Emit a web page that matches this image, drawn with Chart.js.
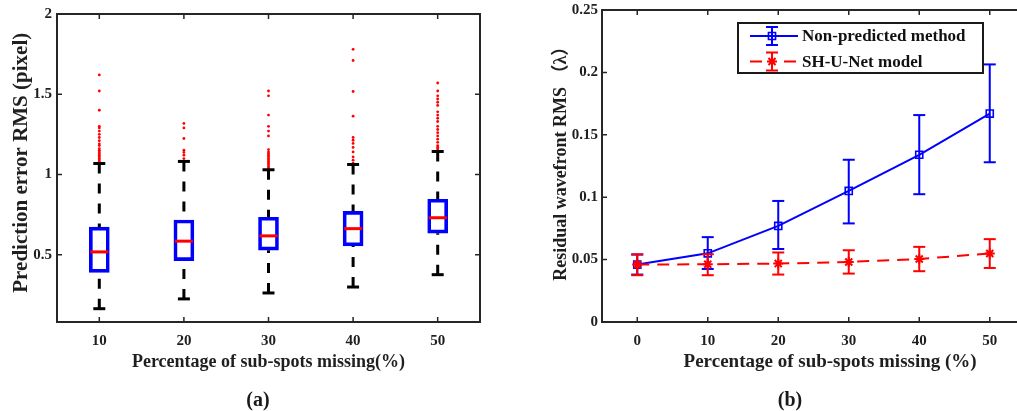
<!DOCTYPE html>
<html><head><meta charset="utf-8">
<script src="https://cdn.jsdelivr.net/npm/chart.js@4.4.1/dist/chart.umd.min.js"></script>
<style>
html,body{margin:0;padding:0;background:#fff;overflow:hidden;width:1017px;height:411px;}
#wrapA{position:absolute;left:0;top:0;width:500px;height:411px;}
#wrapB{position:absolute;left:530px;top:0;width:520px;height:411px;}
.cap{position:absolute;top:388px;line-height:20px;font:bold 20px 'Liberation Serif',serif;color:#1a1a1a;transform:translateX(-50%);}
</style></head><body>
<div id="wrapA"><canvas id="chartA"></canvas></div>
<div id="wrapB"><canvas id="chartB"></canvas></div>
<div class="cap" style="left:258px">(a)</div>
<div class="cap" style="left:790px">(b)</div>
<script>
// ---------- Panel (a): box plot ----------
const categories = ['10', '20', '30', '40', '50'];
const boxPositions = [1, 2, 3, 4, 5];
const q1 = [0.389, 0.463, 0.528, 0.555, 0.634];
const medians = [0.517, 0.584, 0.617, 0.662, 0.730];
const q3 = [0.671, 0.716, 0.733, 0.770, 0.845];
const whiskerLow = [0.163, 0.224, 0.261, 0.298, 0.375];
const whiskerHigh = [1.068, 1.081, 1.029, 1.062, 1.143];
const outliers10 = [1.62, 1.52, 1.40, 1.30, 1.29, 1.27, 1.25, 1.23, 1.21, 1.19, 1.18, 1.16, 1.15, 1.14, 1.13, 1.12, 1.11, 1.10, 1.09, 1.08];
const outliers20 = [1.318, 1.29, 1.224, 1.151, 1.137, 1.12, 1.099];
const outliers30 = [1.52, 1.49, 1.37, 1.30, 1.27, 1.24, 1.155, 1.14, 1.13, 1.12, 1.11, 1.10, 1.09, 1.08, 1.07, 1.06, 1.05, 1.04];
const outliers40 = [1.78, 1.71, 1.517, 1.363, 1.23, 1.213, 1.193, 1.168, 1.14, 1.109, 1.089, 1.07];
const outliers50 = [1.57, 1.52, 1.49, 1.47, 1.45, 1.43, 1.39, 1.37, 1.35, 1.33, 1.30, 1.28, 1.26, 1.24, 1.22, 1.20, 1.18, 1.17, 1.16, 1.15];
const yTicksA = [0.5, 1, 1.5, 2];
const yTickLabelsA = ['0.5', '1', '1.5', '2'];

// ---------- Panel (b): error-bar lines ----------
const xValues = [0, 10, 20, 30, 40, 50];
const xTickLabelsB = ['0', '10', '20', '30', '40', '50'];
const yTicksB = [0, 0.05, 0.1, 0.15, 0.2, 0.25];
const yTickLabelsB = ['0', '0.05', '0.1', '0.15', '0.2', '0.25'];
const seriesNames = ['Non-predicted method', 'SH-U-Net model'];
const nonPredMean = [0.046, 0.055, 0.077, 0.105, 0.134, 0.167];
const nonPredLow  = [0.038, 0.0425, 0.0585, 0.079, 0.1024, 0.128];
const nonPredHigh = [0.054, 0.068, 0.097, 0.130, 0.1658, 0.2064];
const shMean = [0.046, 0.0463, 0.0468, 0.0481, 0.0505, 0.0549];
const shLow  = [0.0375, 0.0375, 0.038, 0.0388, 0.0407, 0.0433];
const shHigh = [0.0543, 0.0543, 0.0557, 0.0575, 0.0602, 0.0664];

const BLUE = '#0000ff', RED = '#ff0000', INK = '#1f1f1f';
const FONT = "'Liberation Serif', 'Noto Sans CJK SC', serif";
Chart.defaults.font.family = FONT;
Chart.defaults.font.weight = 'bold';
Chart.defaults.color = INK;
Chart.defaults.animation = false;

const framePlugin = {
  id: 'frame',
  afterDatasetsDraw(chart) {
    const {ctx, chartArea: a, scales: {x, y}} = chart;
    ctx.save();
    ctx.strokeStyle = '#262626';
    ctx.lineWidth = 2;
    ctx.strokeRect(a.left, a.top, a.right - a.left, a.bottom - a.top);
    ctx.lineWidth = 1.5;
    ctx.beginPath();
    x.ticks.forEach(t => {
      const px = x.getPixelForValue(t.value);
      ctx.moveTo(px, a.bottom); ctx.lineTo(px, a.bottom - 5);
      ctx.moveTo(px, a.top); ctx.lineTo(px, a.top + 5);
    });
    y.ticks.forEach(t => {
      const py = y.getPixelForValue(t.value);
      ctx.moveTo(a.left, py); ctx.lineTo(a.left + 5, py);
      ctx.moveTo(a.right, py); ctx.lineTo(a.right - 5, py);
    });
    ctx.stroke();
    ctx.restore();
  }
};

function errorSegments(xs, lo, hi) {
  const d = [];
  xs.forEach((x, i) => { d.push({x, y: lo[i]}, {x, y: hi[i]}, {x, y: null}); });
  return d;
}
function capPoints(xs, lo, hi) {
  const d = [];
  xs.forEach((x, i) => { d.push({x, y: lo[i]}, {x, y: hi[i]}); });
  return d;
}

// ----- chart A -----
const whiskerData = [];
boxPositions.forEach((x, i) => {
  whiskerData.push({x, y: whiskerHigh[i]}, {x, y: q3[i]}, {x, y: null},
                   {x, y: whiskerLow[i]}, {x, y: q1[i]}, {x, y: null});
});
const outlierLists = [outliers10, outliers20, outliers30, outliers40, outliers50];
const outlierData = [];
outlierLists.forEach((list, i) => list.forEach(v => outlierData.push({x: boxPositions[i], y: v})));

new Chart(document.getElementById('chartA'), {
  type: 'scatter',
  data: {
    datasets: [
      { type: 'scatter', data: boxPositions.map((x, i) => ({x, y: medians[i]})),
        pointStyle: 'line', pointRadius: 9, pointBorderColor: RED, pointBorderWidth: 3, showLine: false, order: 0 },
      { type: 'bar', data: boxPositions.map((x, i) => ({x, y: [q1[i], q3[i]]})),
        backgroundColor: 'rgba(0,0,0,0)', borderColor: BLUE, borderWidth: 3, borderSkipped: false,
        barThickness: 20, order: 1 },
      { type: 'line', data: whiskerData, borderColor: '#000', borderWidth: 3, borderDash: [10, 10],
        pointRadius: 0, spanGaps: false, order: 2 },
      { type: 'scatter', data: capPoints(boxPositions, whiskerLow, whiskerHigh),
        pointStyle: 'line', pointRadius: 6, pointBorderColor: '#000', pointBorderWidth: 3, showLine: false, order: 2 },
      { type: 'scatter', data: outlierData, pointStyle: 'circle', pointRadius: 1.4,
        pointBackgroundColor: RED, pointBorderWidth: 0, showLine: false, order: 3 }
    ]
  },
  options: {
    responsive: true, maintainAspectRatio: false, events: [],
    layout: { padding: { left: 0, right: 20, top: 14, bottom: 0 } },
    plugins: { legend: { display: false }, tooltip: { enabled: false } },
    scales: {
      x: {
        type: 'linear', min: 0.5, max: 5.5, offset: false,
        grid: { display: false, drawTicks: false, offset: false }, border: { display: false },
        afterBuildTicks: s => { s.ticks = boxPositions.map(v => ({value: v})); },
        afterFit: s => { s.height = 89; s.paddingLeft = 0; s.paddingRight = 0; },
        ticks: { padding: 10, font: { size: 15, weight: 'bold' }, maxRotation: 0,
                 callback: (v, i) => categories[i] },
        title: { display: true, text: 'Percentage of sub-spots missing(%)',
                 font: { size: 18, weight: 'bold' }, padding: { top: 0, bottom: 38 } }
      },
      y: {
        type: 'linear', min: 0.08, max: 2,
        grid: { display: false, drawTicks: false }, border: { display: false },
        afterBuildTicks: s => { s.ticks = yTicksA.map(v => ({value: v})); },
        afterFit: s => { s.width = 57; s.paddingTop = 0; s.paddingBottom = 0; },
        ticks: { padding: 5, font: { size: 15, weight: 'bold' }, callback: (v, i) => yTickLabelsA[i] },
        title: { display: true, text: '  Prediction error RMS (pixel)',
                 font: { size: 21, weight: 'bold' }, padding: { top: 9, bottom: 0 } }
      }
    }
  },
  plugins: [framePlugin]
});

// ----- chart B -----
const legendPlugin = {
  id: 'boxLegend',
  afterDraw(chart) {
    const {ctx, chartArea: a} = chart;
    const L = {x: a.left + 136, y: a.top + 13, w: 245, h: 50};
    ctx.save();
    ctx.fillStyle = '#fff';
    ctx.fillRect(L.x, L.y, L.w, L.h);
    ctx.strokeStyle = '#1a1a1a'; ctx.lineWidth = 2;
    ctx.strokeRect(L.x, L.y, L.w, L.h);
    const rows = [
      {y: L.y + 13, color: BLUE, dash: [], style: 'rect', radius: 5, fill: 'rgba(0,0,0,0)', bw: 1.6},
      {y: L.y + 38.5, color: RED, dash: [12, 22], style: 'star', radius: 5, fill: RED, bw: 2}
    ];
    const x0 = L.x + 12, x1 = L.x + 60, xm = L.x + 34;
    rows.forEach((r, i) => {
      ctx.strokeStyle = r.color; ctx.lineWidth = 2;
      ctx.setLineDash(r.dash);
      ctx.beginPath(); ctx.moveTo(x0, r.y); ctx.lineTo(x1, r.y); ctx.stroke();
      ctx.setLineDash([]);
      ctx.beginPath();
      ctx.moveTo(xm, r.y - 9); ctx.lineTo(xm, r.y + 9);
      ctx.moveTo(xm - 6, r.y - 9); ctx.lineTo(xm + 6, r.y - 9);
      ctx.moveTo(xm - 6, r.y + 9); ctx.lineTo(xm + 6, r.y + 9);
      ctx.stroke();
      ctx.fillStyle = r.fill; ctx.strokeStyle = r.color; ctx.lineWidth = r.bw;
      Chart.helpers.drawPoint(ctx, {pointStyle: r.style, radius: r.radius, borderWidth: r.bw, rotation: 0}, xm, r.y);
      ctx.fillStyle = '#111';
      ctx.font = "bold 17px " + FONT;
      ctx.textBaseline = 'middle'; ctx.textAlign = 'left';
      ctx.fillText(seriesNames[i], L.x + 64, r.y + 1);
    });
    ctx.restore();
  }
};

new Chart(document.getElementById('chartB'), {
  type: 'scatter',
  data: {
    datasets: [
      { type: 'line', label: seriesNames[1], data: xValues.map((x, i) => ({x, y: shMean[i]})),
        borderColor: RED, borderWidth: 2, borderDash: [12, 8],
        pointStyle: 'star', pointRadius: 5, pointBorderColor: RED, pointBackgroundColor: RED, pointBorderWidth: 2, order: 0 },
      { type: 'line', data: errorSegments(xValues, shLow, shHigh), borderColor: RED, borderWidth: 2,
        pointRadius: 0, spanGaps: false, order: 0 },
      { type: 'scatter', data: capPoints(xValues, shLow, shHigh), pointStyle: 'line', pointRadius: 6,
        pointBorderColor: RED, pointBorderWidth: 2, showLine: false, order: 0 },
      { type: 'line', label: seriesNames[0], data: xValues.map((x, i) => ({x, y: nonPredMean[i]})),
        borderColor: BLUE, borderWidth: 2,
        pointStyle: 'rect', pointRadius: 5, pointBorderColor: BLUE, pointBackgroundColor: 'rgba(0,0,0,0)', pointBorderWidth: 1.6, order: 1 },
      { type: 'line', data: errorSegments(xValues, nonPredLow, nonPredHigh), borderColor: BLUE, borderWidth: 2,
        pointRadius: 0, spanGaps: false, order: 1 },
      { type: 'scatter', data: capPoints(xValues, nonPredLow, nonPredHigh), pointStyle: 'line', pointRadius: 6,
        pointBorderColor: BLUE, pointBorderWidth: 2, showLine: false, order: 1 }
    ]
  },
  options: {
    responsive: true, maintainAspectRatio: false, events: [],
    layout: { padding: { left: 0, right: 25, top: 10, bottom: 0 } },
    plugins: { legend: { display: false }, tooltip: { enabled: false } },
    scales: {
      x: {
        type: 'linear', min: -5, max: 55,
        grid: { display: false, drawTicks: false }, border: { display: false },
        afterBuildTicks: s => { s.ticks = xValues.map(v => ({value: v})); },
        afterFit: s => { s.height = 89; s.paddingLeft = 0; s.paddingRight = 0; },
        ticks: { padding: 10, font: { size: 15, weight: 'bold' }, maxRotation: 0,
                 callback: (v, i) => xTickLabelsB[i] },
        title: { display: true, text: '       Percentage of sub-spots missing (%)',
                 font: { size: 19, weight: 'bold' }, padding: { top: 0, bottom: 38 } }
      },
      y: {
        type: 'linear', min: 0, max: 0.25,
        grid: { display: false, drawTicks: false }, border: { display: false },
        afterBuildTicks: s => { s.ticks = yTicksB.map(v => ({value: v})); },
        afterFit: s => { s.width = 72; s.paddingTop = 0; s.paddingBottom = 0; },
        ticks: { padding: 4, font: { size: 15, weight: 'bold' }, callback: (v, i) => yTickLabelsB[i] },
        title: { display: true, text: '   Residual wavefront RMS （λ）',
                 font: { size: 18, weight: 'bold' }, padding: { top: 21, bottom: 0 } }
      }
    }
  },
  plugins: [framePlugin, legendPlugin]
});
</script>
</body></html>
